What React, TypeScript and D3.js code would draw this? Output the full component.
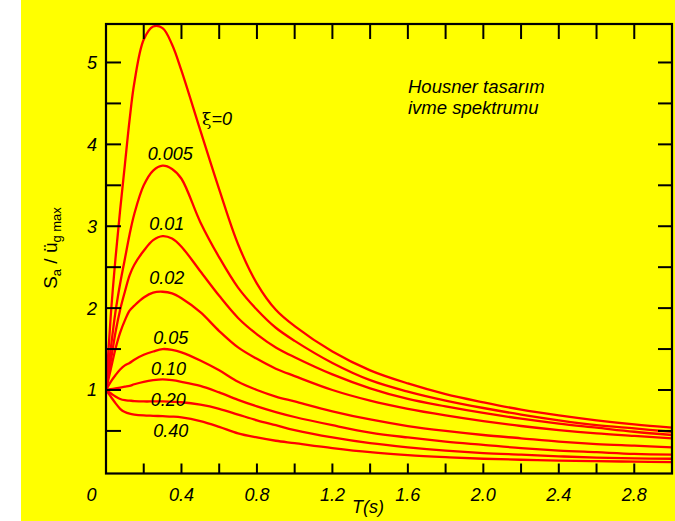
import React from "react";
import * as d3 from "d3";

// Period grid (s)
const periods = [0, 0.025, 0.05, 0.075, 0.1, 0.125, 0.15, 0.2, 0.25, 0.3, 0.35, 0.4, 0.5, 0.6, 0.7, 0.8, 0.9, 1.0, 1.2, 1.4, 1.6, 1.8, 2.0, 2.2, 2.4, 2.6, 2.8, 3.0];

// Sa / ug max for each damping ratio
const xi0 = [1, 1.9, 2.6, 3.2, 3.75, 4.3, 4.75, 5.28, 5.44, 5.42, 5.22, 4.9, 4.17, 3.45, 2.78, 2.3, 1.98, 1.78, 1.47, 1.24, 1.08, 0.95, 0.85, 0.76, 0.69, 0.63, 0.58, 0.54];
const xi0005 = [1, 1.5, 1.95, 2.3, 2.6, 2.9, 3.15, 3.5, 3.68, 3.74, 3.7, 3.58, 3.05, 2.62, 2.25, 1.98, 1.76, 1.6, 1.33, 1.12, 0.98, 0.87, 0.78, 0.7, 0.63, 0.57, 0.53, 0.49];
const xi001 = [1, 1.35, 1.7, 1.98, 2.2, 2.4, 2.53, 2.7, 2.83, 2.88, 2.85, 2.75, 2.45, 2.15, 1.88, 1.68, 1.52, 1.4, 1.19, 1.02, 0.89, 0.8, 0.72, 0.65, 0.59, 0.54, 0.49, 0.45];
const xi002 = [1, 1.25, 1.5, 1.7, 1.85, 1.97, 2.03, 2.13, 2.19, 2.2, 2.18, 2.12, 1.95, 1.72, 1.52, 1.38, 1.26, 1.17, 1.0, 0.87, 0.77, 0.69, 0.62, 0.56, 0.51, 0.47, 0.44, 0.41];
const xi005 = [1, 1.1, 1.18, 1.25, 1.3, 1.33, 1.37, 1.43, 1.47, 1.5, 1.49, 1.46, 1.36, 1.24, 1.1, 1.0, 0.92, 0.86, 0.74, 0.64, 0.56, 0.5, 0.45, 0.41, 0.37, 0.34, 0.32, 0.3];
const xi010 = [1, 1.01, 1.02, 1.03, 1.04, 1.05, 1.07, 1.1, 1.12, 1.13, 1.12, 1.1, 1.05, 0.97, 0.88, 0.8, 0.73, 0.67, 0.57, 0.48, 0.42, 0.37, 0.33, 0.29, 0.26, 0.24, 0.22, 0.21];
const xi020 = [1, 0.96, 0.92, 0.89, 0.875, 0.87, 0.865, 0.86, 0.86, 0.86, 0.855, 0.85, 0.82, 0.77, 0.7, 0.63, 0.57, 0.51, 0.42, 0.35, 0.3, 0.26, 0.23, 0.21, 0.19, 0.175, 0.165, 0.16];
const xi040 = [1, 0.92, 0.84, 0.77, 0.73, 0.71, 0.7, 0.69, 0.685, 0.68, 0.675, 0.665, 0.62, 0.55, 0.47, 0.42, 0.38, 0.35, 0.29, 0.24, 0.205, 0.18, 0.16, 0.148, 0.138, 0.13, 0.125, 0.12];

const seriesValues = [xi0, xi0005, xi001, xi002, xi005, xi010, xi020, xi040];

// Curve labels
const labelTexts = ["0.005", "0.01", "0.02", "0.05", "0.10", "0.20", "0.40"];
const labelX = [147.7, 149.3, 149.3, 153.3, 151, 150.7, 153.3];
const labelY = [160, 229.5, 284, 343.5, 375, 406, 437];

// Axis ticks
const xMinorTicks = [0.2, 0.4, 0.6, 0.8, 1.0, 1.2, 1.4, 1.6, 1.8, 2.0, 2.2, 2.4, 2.6, 2.8];
const xTickLabels = ["0.4", "0.8", "1.2", "1.6", "2.0", "2.4", "2.8"];
const xTickLabelValues = [0.4, 0.8, 1.2, 1.6, 2.0, 2.4, 2.8];
const yMinorTicks = [0.5, 1, 1.5, 2, 2.5, 3, 3.5, 4, 4.5, 5];
const yTickLabelValues = [1, 2, 3, 4, 5];

export default function App() {
  const W = 675, H = 521;
  const left = 106, right = 672, top = 24, bottom = 473.5;
  const x = d3.scaleLinear().domain([0, 3]).range([left, right]);
  const y = d3.scaleLinear().domain([-0.02, 5.47]).range([bottom, top]);
  const line = d3
    .line<number>()
    .x((_, i) => x(periods[i]))
    .y((v) => y(v))
    .curve(d3.curveCatmullRom.alpha(0.5));

  const font = "'Liberation Sans', Arial, Helvetica, sans-serif";

  return (
    <svg
      width={W}
      height={H}
      style={{ position: "absolute", left: 0, top: 0, fontFamily: font }}
    >
      <rect x={0} y={0} width={W} height={H} fill="#ffffff" />
      <rect x={21} y={0} width={W - 21} height={H} fill="#ffff00" />
      <defs>
        <clipPath id="plotclip">
          <rect x={left} y={top} width={right - left} height={bottom - top} />
        </clipPath>
      </defs>

      {/* curves */}
      <g clipPath="url(#plotclip)">
        {seriesValues.map((vals, i) => (
          <path
            key={i}
            d={line(vals) || ""}
            fill="none"
            stroke="#ff0000"
            strokeWidth={2.3}
            strokeLinejoin="round"
          />
        ))}
      </g>

      {/* ticks */}
      <g stroke="#000" strokeWidth={2}>
        {xMinorTicks.map((t) => (
          <line key={"b" + t} x1={x(t)} x2={x(t)} y1={bottom} y2={bottom - 10} />
        ))}
        {xMinorTicks.map((t) => (
          <line key={"t" + t} x1={x(t)} x2={x(t)} y1={top} y2={top + 15} />
        ))}
        {yMinorTicks.map((v) => (
          <line key={"l" + v} x1={left} x2={left + 15} y1={y(v)} y2={y(v)} />
        ))}
        {yMinorTicks.map((v) => (
          <line key={"r" + v} x1={right} x2={right - 14} y1={y(v)} y2={y(v)} />
        ))}
      </g>

      {/* frame */}
      <rect
        x={left}
        y={top}
        width={right - left}
        height={bottom - top}
        fill="none"
        stroke="#000"
        strokeWidth={2.2}
      />

      {/* tick labels */}
      <g fontSize={18} fontStyle="italic" fill="#000">
        <text x={86.5} y={501}>0</text>
        {xTickLabelValues.map((v, i) => (
          <text key={v} x={x(v)} y={501} textAnchor="middle">
            {xTickLabels[i]}
          </text>
        ))}
        {yTickLabelValues.map((v) => (
          <text key={v} x={97} y={y(v) + 6.5} textAnchor="end">
            {String(v)}
          </text>
        ))}
      </g>

      {/* axis titles */}
      <text x={368} y={513} fontSize={18} fontStyle="italic" textAnchor="middle">
        T(s)
      </text>
      <text
        transform="translate(57,248) rotate(-90)"
        fontSize={19}
        textAnchor="middle"
      >
        S<tspan fontSize={13} dy={4}>a</tspan>
        <tspan dy={-4}> / ü</tspan>
        <tspan fontSize={13} dy={4}>g max</tspan>
      </text>

      {/* curve labels */}
      <g fontSize={18} fontStyle="italic" fill="#000">
        <text x={202} y={125}>
          <tspan fontStyle="normal" fontFamily="'DejaVu Serif', serif" fontSize={17}>ξ</tspan>
          <tspan>=0</tspan>
        </text>
        {labelTexts.map((t, i) => (
          <text key={t} x={labelX[i]} y={labelY[i]}>
            {t}
          </text>
        ))}
        <text x={408} y={93.3} fontSize={18.5}>Housner tasarım</text>
        <text x={408} y={113.5} fontSize={18.5}>ivme spektrumu</text>
      </g>
    </svg>
  );
}
